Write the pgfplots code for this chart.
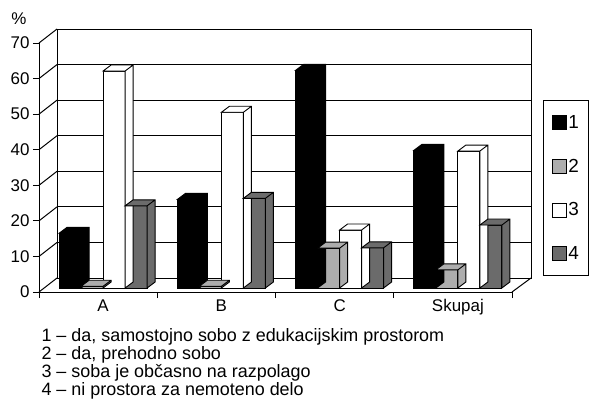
\documentclass[border=0pt]{standalone}
\usepackage{pgfplots}
\pgfplotsset{compat=1.18}
\usepackage{pgfplotstable}
\usepackage{fontspec}
\setmainfont{Liberation Sans}
\pgfplotstableread{
x s1 s2 s3 s4
0 15.4 0.5 61.0 23.1
1 24.9 0.5 49.4 25.2
2 61.2 11.2 16.3 11.3
3 38.7 5.1 38.5 17.7
}\data
\definecolor{lightstip}{gray}{0.68}
\definecolor{darkstip}{gray}{0.42}
\newcommand{\fs}{\fontsize{17}{20}\selectfont}
\newcommand{\fsb}{\fontsize{18}{21}\selectfont}
\newcommand{\fsl}{\fontsize{19}{22}\selectfont}
% top + side faces of a 3D column, drawn at the bar top
\newcommand\declareface[2]{%
  \pgfdeclareplotmark{#1}{%
    \pgfmathsetlengthmacro\H{\hval*3.55714bp}%
    \pgfpathmoveto{\pgfpoint{#2bp-11bp}{0bp}}%
    \pgfpathlineto{\pgfpoint{#2bp-3bp}{6bp}}%
    \pgfpathlineto{\pgfpoint{#2bp+19bp}{6bp}}%
    \pgfpathlineto{\pgfpoint{#2bp+19bp}{6bp-\H}}%
    \pgfpathlineto{\pgfpoint{#2bp+11bp}{-\H}}%
    \pgfpathlineto{\pgfpoint{#2bp+11bp}{0bp}}%
    \pgfpathclose
    \pgfpathmoveto{\pgfpoint{#2bp+11bp}{0bp}}%
    \pgfpathlineto{\pgfpoint{#2bp+19bp}{6bp}}%
    \pgfusepathqfillstroke
  }}
\declareface{faceA}{-33}
\declareface{faceB}{-11}
\declareface{faceC}{11}
\declareface{faceD}{33}
\begin{document}
\begin{tikzpicture}[x=1bp,y=1bp]
\useasboundingbox (0,0) rectangle (594,405);
% back wall
\begin{axis}[at={(57bp,127bp)}, anchor=south west, scale only axis,
  width=474bp, height=249bp,
  xmin=-0.5, xmax=3.5, ymin=0, ymax=70,
  xtick=\empty, ytick={0,10,...,70}, yticklabels={},
  major tick length=0pt, ymajorgrids,
  grid style={black, line width=1bp}, axis line style={line width=1bp}]
\end{axis}
% side wall and floor
\foreach \k in {0,...,7} {
  \draw[line width=1bp] (39,{113+249*\k/7}) -- (57,{127+249*\k/7});
}
\draw[line width=1bp] (512,113) -- (531,127);
% front axis
\begin{axis}[at={(39bp,113bp)}, anchor=south west, scale only axis,
  width=473bp, height=249bp,
  xmin=-0.5, xmax=3.5, ymin=0, ymax=70,
  axis lines*=left, axis line style={line width=1bp},
  xtick={-0.5,0.5,1.5,2.5,3.5}, xticklabels={},
  ytick={0,10,...,70},
  extra x ticks={0,1,2,3}, extra x tick labels={A,B,C,Skupaj},
  extra x tick style={major tick length=0pt, xticklabel style={xshift=5bp, yshift=-4bp}},
  tick align=outside, major tick length=6bp,
  tick style={black, line width=1bp},
  tick label style={font=\fs},
  /pgf/number format/assume math mode=true]
\end{axis}
% bars
\begin{axis}[at={(44bp,117bp)}, anchor=south west, scale only axis,
  width=473bp, height=249bp,
  xmin=-0.5, xmax=3.5, ymin=0, ymax=70, hide axis, clip=false,
  legend style={at={(1.05497,0.75502)}, anchor=north west, draw=black,
    line width=1bp, inner xsep=8bp, inner ysep=13bp, row sep=25bp, font=\fsl},
  legend cell align=left,
  barA/.style={ybar, bar width=22bp, draw=black, line width=0.9bp,
    legend image code/.code={\draw[##1, line width=0.9bp] (0bp,-7bp) rectangle (14bp,7bp);}},
  faces/.style={forget plot, only marks, mark options={draw=black, fill=#1, line width=0.9bp}}]
\addplot[faces=black, mark=faceA, visualization depends on={\thisrow{s1} \as \hval}] table[x=x,y=s1]{\data};
\addplot[barA, bar shift=-33bp, fill=black] table[x=x,y=s1]{\data};
\addplot[faces=lightstip, mark=faceB, visualization depends on={\thisrow{s2} \as \hval}] table[x=x,y=s2]{\data};
\addplot[barA, bar shift=-11bp, fill=lightstip] table[x=x,y=s2]{\data};
\addplot[faces=white, mark=faceC, visualization depends on={\thisrow{s3} \as \hval}] table[x=x,y=s3]{\data};
\addplot[barA, bar shift=11bp, fill=white] table[x=x,y=s3]{\data};
\addplot[faces=darkstip, mark=faceD, visualization depends on={\thisrow{s4} \as \hval}] table[x=x,y=s4]{\data};
\addplot[barA, bar shift=33bp, fill=darkstip] table[x=x,y=s4]{\data};
\legend{1,2,3,4}
\end{axis}
\node[font=\fs] at (19,386) {\%};
\node[anchor=base west, font=\fsb] at (38,64) {1 – da, samostojno sobo z edukacijskim prostorom};
\node[anchor=base west, font=\fsb] at (38,46) {2 – da, prehodno sobo};
\node[anchor=base west, font=\fsb] at (38,28) {3 – soba je občasno na razpolago};
\node[anchor=base west, font=\fsb] at (38,10) {4 – ni prostora za nemoteno delo};
\end{tikzpicture}
\end{document}
